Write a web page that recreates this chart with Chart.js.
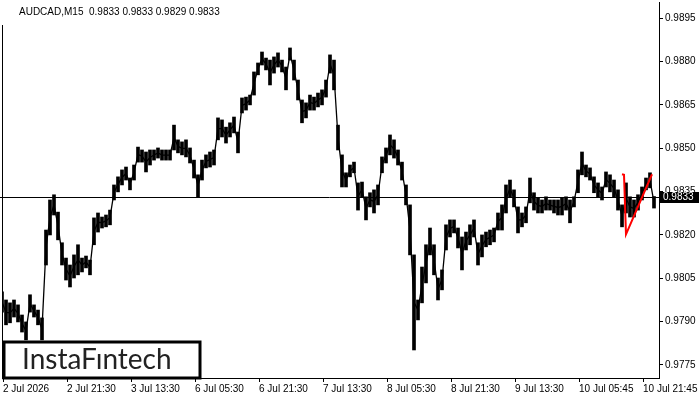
<!DOCTYPE html>
<html>
<head>
<meta charset="utf-8">
<script src="https://cdn.jsdelivr.net/npm/chart.js@4.4.1/dist/chart.umd.min.js"></script>
<style>
    html, body { margin: 0; padding: 0; background: #fff; }
</style>
</head>
<body>
<canvas id="graficoPreco" width="700" height="400"></canvas>
<script>
/**
 * Gráfico AUDCAD M15 (estilo terminal)
 * Barras de máxima/mínima a cada 4 barras de 15 min, padrão em vermelho.
 */

const SIMBOLO = 'AUDCAD,M15';
const ultimaBarra = [0.9833, 0.9833, 0.9829, 0.9833]; // abertura, máxima, mínima, fechamento

// uma amostra a cada 4 barras de 15 minutos
const PASSO_BARRAS = 4;
const TOTAL_BARRAS = 657;

const maximas = [
    0.98003, 0.97975, 0.97965, 0.97975, 0.97958, 0.97923, 0.97899, 0.97993, 0.97958, 0.97940,
    0.97913, 0.98217, 0.98321, 0.98339, 0.98279, 0.98173, 0.98120, 0.98096, 0.98131, 0.98166,
    0.98120, 0.98127, 0.98113, 0.98259, 0.98276, 0.98262, 0.98269, 0.98286, 0.98373, 0.98401,
    0.98425, 0.98435, 0.98397, 0.98442, 0.98504, 0.98494, 0.98487, 0.98494, 0.98494, 0.98501,
    0.98494, 0.98494, 0.98494, 0.98580, 0.98529, 0.98522, 0.98529, 0.98501, 0.98459, 0.98408,
    0.98459, 0.98477, 0.98487, 0.98494, 0.98605, 0.98598, 0.98573, 0.98588, 0.98608, 0.98556,
    0.98674, 0.98677, 0.98684, 0.98764, 0.98795, 0.98833, 0.98812, 0.98805, 0.98816, 0.98830,
    0.98805, 0.98781, 0.98847, 0.98805, 0.98736, 0.98667, 0.98657, 0.98684, 0.98677, 0.98691,
    0.98702, 0.98736, 0.98823, 0.98805, 0.98580, 0.98477, 0.98415, 0.98442, 0.98452, 0.98380,
    0.98383, 0.98332, 0.98346, 0.98356, 0.98373, 0.98470, 0.98501, 0.98546, 0.98529, 0.98494,
    0.98452, 0.98373, 0.98304, 0.98131, 0.97975, 0.98089, 0.98166, 0.98224, 0.98166, 0.98051,
    0.98079, 0.98235, 0.98252, 0.98252, 0.98224, 0.98193, 0.98210, 0.98235, 0.98252, 0.98173,
    0.98200, 0.98210, 0.98217, 0.98224, 0.98276, 0.98304, 0.98373, 0.98390, 0.98356, 0.98297,
    0.98276, 0.98297, 0.98397, 0.98346, 0.98328, 0.98321, 0.98332, 0.98321, 0.98321, 0.98321,
    0.98328, 0.98332, 0.98321, 0.98332, 0.98425, 0.98487, 0.98442, 0.98432, 0.98401, 0.98380,
    0.98366, 0.98418, 0.98408, 0.98390, 0.98356, 0.98304, 0.98380, 0.98332, 0.98321, 0.98339,
    0.98366, 0.98397, 0.98415, 0.98333
];

const minimas = [
    0.97933, 0.97889, 0.97896, 0.97916, 0.97899, 0.97864, 0.97837, 0.97933, 0.97916, 0.97889,
    0.97837, 0.98096, 0.98200, 0.98269, 0.98183, 0.98096, 0.98044, 0.98020, 0.98051, 0.98062,
    0.98072, 0.98086, 0.98062, 0.98166, 0.98210, 0.98224, 0.98228, 0.98235, 0.98321, 0.98349,
    0.98373, 0.98390, 0.98356, 0.98390, 0.98452, 0.98452, 0.98418, 0.98442, 0.98459, 0.98466,
    0.98459, 0.98459, 0.98459, 0.98494, 0.98484, 0.98477, 0.98470, 0.98449, 0.98397, 0.98332,
    0.98390, 0.98432, 0.98435, 0.98442, 0.98529, 0.98539, 0.98518, 0.98539, 0.98553, 0.98484,
    0.98622, 0.98632, 0.98650, 0.98684, 0.98754, 0.98788, 0.98771, 0.98719, 0.98760, 0.98781,
    0.98764, 0.98702, 0.98805, 0.98736, 0.98667, 0.98588, 0.98605, 0.98632, 0.98632, 0.98643,
    0.98650, 0.98677, 0.98760, 0.98702, 0.98494, 0.98366, 0.98366, 0.98401, 0.98415, 0.98286,
    0.98332, 0.98252, 0.98297, 0.98276, 0.98304, 0.98415, 0.98449, 0.98477, 0.98466, 0.98442,
    0.98390, 0.98304, 0.98131, 0.97802, 0.97906, 0.97965, 0.98034, 0.98131, 0.98062, 0.97975,
    0.98010, 0.98148, 0.98193, 0.98207, 0.98155, 0.98079, 0.98148, 0.98166, 0.98193, 0.98096,
    0.98124, 0.98159, 0.98166, 0.98176, 0.98217, 0.98217, 0.98276, 0.98332, 0.98297, 0.98207,
    0.98228, 0.98242, 0.98311, 0.98286, 0.98276, 0.98276, 0.98286, 0.98286, 0.98276, 0.98269,
    0.98269, 0.98286, 0.98242, 0.98297, 0.98346, 0.98408, 0.98401, 0.98390, 0.98346, 0.98332,
    0.98321, 0.98366, 0.98349, 0.98332, 0.98286, 0.98228, 0.98276, 0.98262, 0.98262, 0.98286,
    0.98321, 0.98356, 0.98363, 0.98293
];

// padrão detectado (linha vermelha)
const padraoBarras = [620, 622, 624, 650];
const padraoPrecos = [0.98410, 0.98408, 0.98202, 0.98410];

// eixo de tempo
const rotulosTempo = [
    '2 Jul 2026', '2 Jul 21:30', '3 Jul 13:30', '6 Jul 05:30', '6 Jul 21:30', '7 Jul 13:30',
    '8 Jul 05:30', '8 Jul 21:30', '9 Jul 13:30', '10 Jul 05:45', '10 Jul 21:45'
];
const barrasTempo = [1, 65, 129, 193, 257, 321, 385, 449, 513, 577, 641];

// eixo de preço
const ticksPreco = [0.9775, 0.9790, 0.9805, 0.9820, 0.9835, 0.9850, 0.9865, 0.9880, 0.9895];
const PRECO_MIN = 0.97705;
const PRECO_MAX = 0.99006;

const FONTE = 'Liberation Sans, Arial, sans-serif';

const dadosBarras = maximas.map((max, i) => ({ x: i * PASSO_BARRAS, y: [minimas[i], max] }));
const dadosMedios = maximas.map((max, i) => ({ x: i * PASSO_BARRAS, y: (max + minimas[i]) / 2 }));
const dadosPadrao = padraoBarras.map((b, i) => ({ x: b, y: padraoPrecos[i] }));

const pluginTerminal = {
    id: 'terminal',
    beforeDatasetsDraw: (chart) => {
        const { ctx, chartArea, scales } = chart;
        const y = Math.round(scales.y.getPixelForValue(ultimaBarra[3])) + 0.5;
        ctx.save();
        ctx.strokeStyle = '#000';
        ctx.lineWidth = 1;
        ctx.beginPath();
        ctx.moveTo(0, y);
        ctx.lineTo(chartArea.right, y);
        ctx.stroke();
        ctx.restore();
    },
    afterDraw: (chart) => {
        const { ctx, chartArea, scales } = chart;
        ctx.save();

        // borda esquerda
        ctx.strokeStyle = '#000';
        ctx.lineWidth = 1;
        ctx.beginPath();
        ctx.moveTo(chartArea.left + 0.5, 25);
        ctx.lineTo(chartArea.left + 0.5, chartArea.bottom);
        ctx.stroke();

        // cabeçalho
        ctx.fillStyle = '#000';
        ctx.font = `10px ${FONTE}`;
        ctx.textBaseline = 'middle';
        ctx.textAlign = 'left';
        ctx.fillText(`${SIMBOLO}  ${ultimaBarra.map(v => v.toFixed(4)).join(' ')}`, 19, 12);

        // etiqueta do preço atual
        const y = Math.round(scales.y.getPixelForValue(ultimaBarra[3]));
        ctx.fillStyle = '#000';
        ctx.fillRect(chartArea.right + 1, y - 5, 39, 11);
        ctx.fillStyle = '#fff';
        ctx.fillText(ultimaBarra[3].toFixed(4), chartArea.right + 4, y + 0.5);

        // logotipo
        ctx.fillStyle = '#fff';
        ctx.fillRect(3, 341, 197, 37);
        ctx.strokeStyle = '#000';
        ctx.lineWidth = 3;
        ctx.strokeRect(4, 342, 196, 36);
        ctx.fillStyle = '#222';
        ctx.font = `28px Lato, ${FONTE}`;
        ctx.textBaseline = 'alphabetic';
        ctx.fillText('InstaF\u0131ntech', 22, 369, 160);

        ctx.restore();
    }
};

new Chart(document.getElementById('graficoPreco'), {
    type: 'bar',
    data: {
        datasets: [
            {
                type: 'line',
                data: dadosPadrao,
                borderColor: '#ff0000',
                borderWidth: 2,
                pointRadius: 0,
                tension: 0,
                order: 0
            },
            {
                type: 'line',
                data: dadosMedios,
                borderColor: '#000',
                borderWidth: 1.3,
                pointRadius: 0,
                tension: 0,
                order: 1
            },
            {
                type: 'bar',
                data: dadosBarras,
                backgroundColor: '#000',
                borderWidth: 0,
                barThickness: 3,
                order: 2
            }
        ]
    },
    options: {
        responsive: false,
        animation: false,
        devicePixelRatio: 1,
        layout: { padding: { top: 2, left: 2, right: 0, bottom: 0 } },
        plugins: {
            legend: { display: false },
            tooltip: { enabled: false }
        },
        scales: {
            x: {
                type: 'linear',
                min: 0,
                max: TOTAL_BARRAS,
                offset: false,
                border: { display: true, color: '#000', width: 1 },
                grid: { display: true, drawOnChartArea: false, offset: false, color: '#000', tickLength: 4 },
                afterBuildTicks: (escala) => {
                    escala.ticks = barrasTempo.map(v => ({ value: v }));
                },
                afterFit: (escala) => {
                    escala.height = 22;
                    escala.paddingLeft = 0;
                    escala.paddingRight = 0;
                },
                ticks: {
                    autoSkip: false,
                    maxRotation: 0,
                    align: 'start',
                    padding: 1,
                    color: '#000',
                    font: { family: FONTE, size: 10 },
                    callback: (valor, indice) => rotulosTempo[indice]
                }
            },
            y: {
                position: 'right',
                min: PRECO_MIN,
                max: PRECO_MAX,
                border: { display: true, color: '#000', width: 1 },
                grid: { display: true, drawOnChartArea: false, color: '#000', tickLength: 4 },
                afterBuildTicks: (escala) => {
                    escala.ticks = ticksPreco.map(v => ({ value: v }));
                },
                afterFit: (escala) => {
                    escala.width = 41;
                    escala.paddingTop = 0;
                    escala.paddingBottom = 0;
                },
                ticks: {
                    padding: 2,
                    color: '#000',
                    font: { family: FONTE, size: 10 },
                    callback: (valor) => valor.toFixed(4)
                }
            }
        }
    },
    plugins: [pluginTerminal]
});
</script>
</body>
</html>
